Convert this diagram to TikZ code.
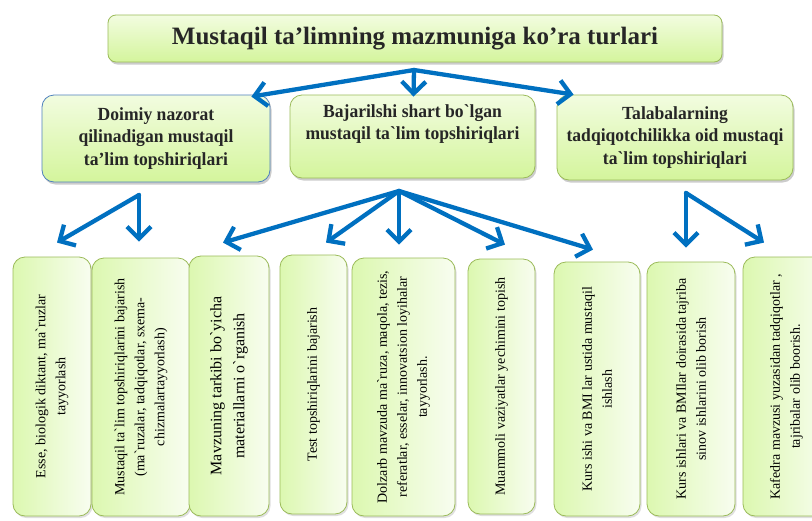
\documentclass[tikz,border=0pt]{standalone}
\usepackage{fontspec}
\setmainfont{Liberation Serif}[Ligatures=TeXOff]
\newfontfamily\narrowfont{Liberation Serif}[Ligatures=TeXOff, FakeStretch=0.95]
\usetikzlibrary{arrows.meta,shadows,calc}

\definecolor{boxline}{HTML}{9BBB59}
\definecolor{boxblue}{HTML}{4F81BD}
\definecolor{arrblue}{HTML}{0070C0}
\definecolor{gtop}{HTML}{F2FCE0}
\definecolor{gbot}{HTML}{D4F59C}
\definecolor{ltop}{HTML}{F8FDF0}
\definecolor{lbot}{HTML}{DCF8B0}

\tikzset{
  headbox/.style={draw=boxline, line width=0.8pt, rounded corners=8pt,
    top color=gtop, bottom color=gbot, text=black!85,
    drop shadow={shadow xshift=1.5pt, shadow yshift=-2.5pt, opacity=0.4}},
  midbox/.style={headbox, rounded corners=12pt, align=center,
    font=\narrowfont\fontsize{18.5}{22.5}\selectfont\bfseries},
  lowbox/.style={draw=boxline, line width=0.8pt, rounded corners=12pt,
    left color=lbot, right color=ltop, align=center, rotate=90,
    drop shadow={shadow xshift=1.5pt, shadow yshift=-2pt, opacity=0.25}},
  arr/.style={draw=arrblue, line width=4.3pt, line cap=round,
    -{Straight Barb[length=12pt,width=24pt]}}
}

\begin{document}
\begin{tikzpicture}[x=1pt,y=-1pt]
\useasboundingbox (0,0) rectangle (812,520);
\fill[white] (0,0) rectangle (812,520);

% title
\node[headbox, minimum width=614, minimum height=47,
  font=\fontsize{25}{30}\selectfont\bfseries] (title) at (415,38.5)
  {Mustaqil ta’limning mazmuniga ko’ra turlari};

% three groups
\node[midbox, draw=boxblue, minimum width=228, minimum height=87] (nazorat) at (156,138.5)
  {Doimiy nazorat\\qilinadigan mustaqil\\ta’lim topshiriqlari};
\node[midbox, minimum width=245, minimum height=83] (shart) at (412.5,136.5)
  {Bajarilshi shart bo`lgan\\mustaqil ta`lim topshiriqlari\\\strut};
\node[midbox, minimum width=236, minimum height=85] (talaba) at (675,137.5)
  {Talabalarning\\tadqiqotchilikka oid mustaqi\\ta`lim topshiriqlari};

% task boxes (rotated, so east is the top)
\foreach \nm/\cx/\cy/\w/\h/\fs/\ls/\txt in {
  e1/52/386.5/78/259/14/20/{Esse, biologik diktant, ma`ruzlar\\tayyorlash},
  e2/141/387/98/258/14/20/{Mustaqil ta`lim topshiriqlarini bajarish\\(ma`ruzalar, tadqiqotlar, sxema-\\chizmalartayyorlash)},
  e3/229/386/80/260/16/23/{Mavzuning tarkibi bo`yicha\\materiallarni o`rganish},
  e4/313.5/384.5/67/259/14/20/{Test topshiriqlarini bajarish},
  e5/403.5/387/103/258/14/20/{Dolzarb mavzuda ma`ruza, maqola, tezis,\\referatlar, esselar, innovatsion loyihalar\\tayyorlash.},
  e6/501.5/386.5/67/255/14/20/{Muammoli vaziyatlar yechimini topish},
  e7/597/389/86/254/14/20/{Kurs ishi va BMI lar ustida mustaqil\\ishlash},
  e8/691/389/88/254/14/20/{Kurs ishlari va BMIlar doirasida tajriba\\sinov ishlarini olib borish},
  e9/786.5/386.5/87/259/14/20/{Kafedra mavzusi yuzasidan tadqiqotlar ,\\tajribalar olib boorish.}} {
  \node[lowbox, minimum width=\h, minimum height=\w,
    font=\fontsize{\fs}{\ls}\selectfont] (\nm) at (\cx,\cy) {\txt};
}

% arrows from the title
\coordinate (t0) at (414,70);
\draw[arr] (t0) -- ($(nazorat.north east)+(-19,2)$);
\draw[arr] (t0) -- ($(shart.north)+(1,2)$);
\draw[arr] (t0) -- ($(talaba.north west)+(17,0)$);

% arrows to the tasks
\coordinate (a0) at (139,195);
\coordinate (b0) at (399,191);
\coordinate (c0) at (686,193);
\draw[arr] (a0) -- ($(e1.east)+(5,-14)$);
\draw[arr] (a0) -- ($(e2.east)+(-2,-16)$);
\draw[arr] (b0) -- ($(e3.east)+(-6,-13)$);
\draw[arr] (b0) -- ($(e4.east)+(12.5,-12)$);
\draw[arr] (b0) -- ($(e5.east)+(-4.5,-13)$);
\draw[arr] (b0) -- ($(e6.east)+(3.5,-14)$);
\draw[arr] (b0) -- ($(e7.east)+(-4,-12)$);
\draw[arr] (c0) -- ($(e8.east)+(-5,-14)$);
\draw[arr] (c0) -- ($(e9.east)+(-22.5,-14)$);

\end{tikzpicture}
\end{document}
